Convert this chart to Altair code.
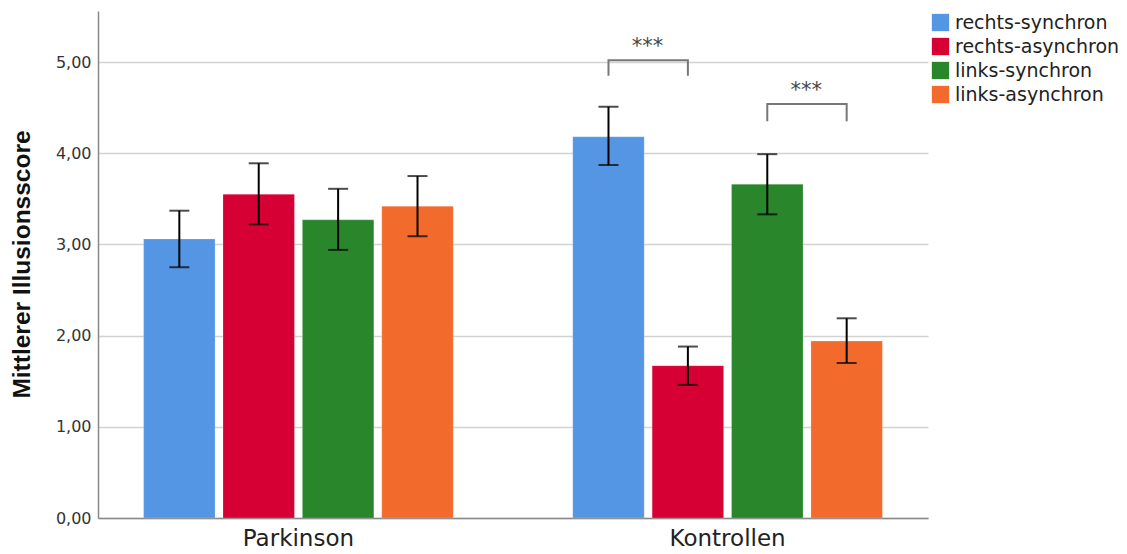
import altair as alt
import pandas as pd

# Groups, conditions and measured values
groups = ["Parkinson", "Kontrollen"]
conditions = ["rechts-synchron", "rechts-asynchron", "links-synchron", "links-asynchron"]
colors = ["#5596E4", "#D70034", "#2A862A", "#F26A2C"]

means = {
    "Parkinson": [3.06, 3.55, 3.27, 3.42],
    "Kontrollen": [4.18, 1.67, 3.66, 1.94],
}
ci_low = {
    "Parkinson": [2.75, 3.22, 2.94, 3.09],
    "Kontrollen": [3.87, 1.46, 3.33, 1.70],
}
ci_high = {
    "Parkinson": [3.37, 3.89, 3.61, 3.75],
    "Kontrollen": [4.51, 1.88, 3.99, 2.19],
}

# Significance brackets: group, left condition, right condition, top level, leg end, label
brackets = [
    ("Kontrollen", "rechts-synchron", "rechts-asynchron", 5.02, 4.85, "***"),
    ("Kontrollen", "links-synchron", "links-asynchron", 4.54, 4.35, "***"),
]

rows = []
for g in groups:
    for i, c in enumerate(conditions):
        rows.append({"Gruppe": g, "Bedingung": c, "Mittelwert": means[g][i],
                     "lo": ci_low[g][i], "hi": ci_high[g][i]})
df = pd.DataFrame(rows)

line_rows, text_rows = [], []
for k, (g, c1, c2, top, leg, lab) in enumerate(brackets):
    pts = [(c1, leg), (c1, top), (c2, top), (c2, leg)]
    for j, (c, yv) in enumerate(pts):
        line_rows.append({"Gruppe": g, "Bedingung": c, "y": yv, "ord": j, "id": k})
    text_rows.append({"Gruppe": g, "Bedingung": c1, "y": top, "label": lab})
df_lines = pd.DataFrame(line_rows)
df_text = pd.DataFrame(text_rows)

x_scale = alt.Scale(domain=groups, paddingInner=0.26, paddingOuter=0.097)
off_scale = alt.Scale(domain=conditions, paddingInner=0.1, paddingOuter=0.05)
y_scale = alt.Scale(domain=[0, 5.56], nice=False, zero=True)
color_scale = alt.Scale(domain=conditions, range=colors)

x_enc = alt.X("Gruppe:N", scale=x_scale, sort=groups,
              axis=alt.Axis(title=None, labelAngle=0, labelFont="DejaVu Sans",
                            labelFontSize=23, labelColor="#222222", labelPadding=9,
                            ticks=False, domainColor="#888888", domainWidth=1.5,
                            grid=False))
off_enc = alt.XOffset("Bedingung:N", scale=off_scale, sort=conditions)

bars = alt.Chart(df).mark_bar(stroke="white", strokeWidth=0.5, strokeOpacity=0.4).encode(
    x=x_enc,
    xOffset=off_enc,
    y=alt.Y("Mittelwert:Q", scale=y_scale,
            axis=alt.Axis(title="Mittlerer Illusionsscore",
                          values=[0, 1, 2, 3, 4, 5],
                          labelExpr="replace(format(datum.value, '.2f'), '.', ',')",
                          labelFont="DejaVu Sans", labelFontSize=16,
                          labelColor="#333333", labelPadding=7, ticks=False,
                          domainColor="#888888", domainWidth=1.5,
                          gridColor="#d2d2d2", gridWidth=1.5,
                          titleFont="Liberation Sans", titleFontWeight="bold",
                          titleFontSize=24.5, titleColor="#111111",
                          titleAngle=270, titleX=-76, titleY=253,
                          titleAlign="center", titleBaseline="middle")),
    color=alt.Color("Bedingung:N", scale=color_scale, sort=conditions,
                    legend=alt.Legend(title=None, orient="none", legendX=833,
                                      legendY=2, symbolType="square",
                                      symbolSize=300, symbolStrokeWidth=0,
                                      labelFont="DejaVu Sans", labelFontSize=19,
                                      labelColor="#222222", rowPadding=4,
                                      labelOffset=5, labelLimit=400)),
)

err = alt.Chart(df).mark_rule(color="#000000", strokeWidth=2).encode(
    x=alt.X("Gruppe:N", scale=x_scale, sort=groups),
    xOffset=off_enc,
    y=alt.Y("lo:Q", scale=y_scale),
    y2="hi:Q",
)
caps_lo = alt.Chart(df).mark_tick(color="#000000", thickness=2, size=20,
                                  orient="horizontal").encode(
    x=alt.X("Gruppe:N", scale=x_scale, sort=groups),
    xOffset=off_enc,
    y=alt.Y("lo:Q", scale=y_scale),
)
caps_hi = caps_lo.encode(y=alt.Y("hi:Q", scale=y_scale))

bracket_lines = alt.Chart(df_lines).mark_line(color="#777777", strokeWidth=2).encode(
    x=alt.X("Gruppe:N", scale=x_scale, sort=groups),
    xOffset=off_enc,
    y=alt.Y("y:Q", scale=y_scale),
    order="ord:O",
    detail="id:N",
)
bracket_text = alt.Chart(df_text).mark_text(font="DejaVu Sans", fontSize=21,
                                             color="#444444", dx=39, dy=-13,
                                             baseline="middle").encode(
    x=alt.X("Gruppe:N", scale=x_scale, sort=groups),
    xOffset=off_enc,
    y=alt.Y("y:Q", scale=y_scale),
    text="label:N",
)

chart = alt.layer(bars, err, caps_lo, caps_hi, bracket_lines, bracket_text).properties(
    width=830, height=507,
    background="white",
    autosize=alt.AutoSizeParams(type="none"),
    padding={"left": 98, "top": 11, "right": 199, "bottom": 36},
).configure_view(stroke="transparent", strokeWidth=0)

chart.save("out.html", embed_options={"renderer": "svg", "actions": False})
